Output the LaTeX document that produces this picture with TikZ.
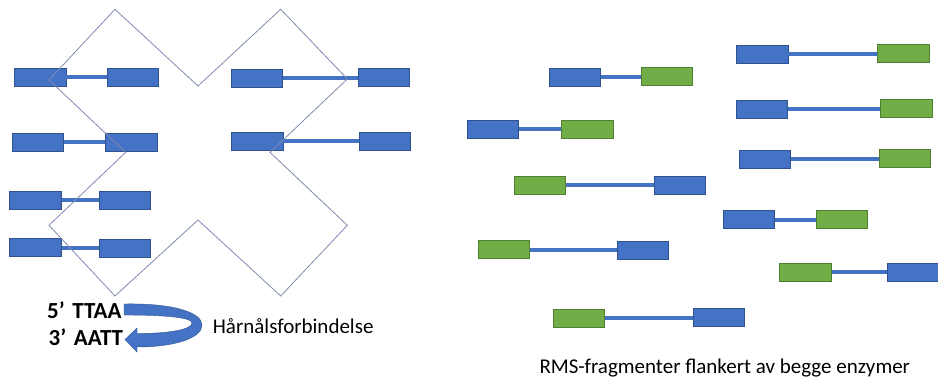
\documentclass[tikz,border=0pt]{standalone}
\usepackage{fontspec}
\setmainfont{Carlito}
\definecolor{fragblue}{HTML}{4472C4}
\definecolor{fragblueedge}{HTML}{2F528F}
\definecolor{fraggreen}{HTML}{70AD47}
\definecolor{fraggreenedge}{HTML}{507E32}
\definecolor{crossline}{RGB}{128,138,176}
\tikzset{
  bbox/.style={rectangle, fill=fragblue, draw=fragblueedge, line width=0.6pt,
    minimum width=51.5pt, minimum height=18pt, inner sep=0pt},
  gbox/.style={rectangle, fill=fraggreen, draw=fraggreenedge, line width=0.6pt,
    minimum width=51.5pt, minimum height=18pt, inner sep=0pt},
  link/.style={draw=fragblue, line width=4pt},
  cross/.style={draw=crossline, line width=0.8pt, line join=miter},
  seqtext/.style={font=\fontsize{23}{27}\selectfont\bfseries, inner sep=0pt},
  labeltext/.style={inner sep=0pt}
}
\begin{document}
\begin{tikzpicture}[x=1pt,y=-1pt]
\useasboundingbox (0,0) rectangle (938,378);

% ---------- left: hairpin-ligated fragments ----------
\foreach \name/\x/\y in {l1a/40.2/77.2, l1b/132.7/77.2,
                         l2a/38/141.8,   l2b/131.3/141.8,
                         l3a/35.5/200.3, l3b/124.8/200.3,
                         l4a/35.5/247.6, l4b/124.8/248.3,
                         r1a/257/77.8,   r1b/383.7/77.4,
                         r2a/257.3/141.4, r2b/385/141.3}
  \node[bbox] (\name) at (\x,\y) {};
\foreach \a/\b in {l1a/l1b, l2a/l2b, l3a/l3b, l4a/l4b, r1a/r1b, r2a/r2b}
  \draw[link] (\a.east) -- (\a.east -| \b.west);

% cross-shaped outline over the left group
\draw[cross] (115,9.3) -- (198,86) -- (280.7,9.3) -- (347.3,79) -- (270,152.3)
  -- (347.3,225.3) -- (280.7,296) -- (198,220) -- (115,296) -- (49,225.3)
  -- (125.7,152.3) -- (49,80) -- cycle;

% ---------- hairpin ends ----------
\node[seqtext, anchor=base east] (s5) at (121.7,318.3) {5’\,\,TTAA};
\node[seqtext, anchor=base east] (s3) at (123.3,345.7) {3’\,\,AATT};
\fill[fragblue, draw=fragblueedge, line width=0.4pt]
  (124,304) .. controls (175,303) and (202,313) .. (202,325)
  .. controls (202,338) and (175,347) .. (137,347)
  -- (137,352) -- (125,339.5) -- (137,328) -- (137,333.5)
  .. controls (172,333.5) and (192,329) .. (192,323)
  .. controls (192,318) and (170,315) .. (124,315) -- cycle;
\node[labeltext, anchor=base west, font=\fontsize{21}{25}\selectfont]
  (hairpin) at (212.7,333.3) {Hårnålsforbindelse};

% ---------- right: fragments flanked by both enzymes ----------
\foreach \name/\x/\y in {f1a/574.8/77, f2a/493/129.2, f3b/679.7/185.6,
                         f4a/762.3/54.2, f5a/762/109, f6a/764.7/158.8,
                         f7a/748.7/219.7, f8b/643/250, f9b/913/272.7,
                         f10b/718.7/317.6}
  \node[bbox] (\name) at (\x,\y) {};
\foreach \name/\x/\y in {f1b/667/76.6, f2b/587.3/129.2, f3a/540/185.3,
                         f4b/903.3/53.5, f5b/906.3/108.6, f6b/904.8/158.4,
                         f7b/841.7/219.7, f8a/503.8/249.6, f9a/805.5/272.4,
                         f10a/578.7/317.8}
  \node[gbox] (\name) at (\x,\y) {};
\foreach \a/\b in {f1a/f1b, f2a/f2b, f3a/f3b, f4a/f4b, f5a/f5b, f6a/f6b,
                   f7a/f7b, f8a/f8b, f9a/f9b, f10a/f10b}
  \draw[link] (\a.east) -- (\a.east -| \b.west);

\node[labeltext, anchor=base west, font=\fontsize{21}{25}\selectfont]
  (rms) at (539.3,373.3) {RMS-fragmenter flankert av begge enzymer};
\end{tikzpicture}
\end{document}
